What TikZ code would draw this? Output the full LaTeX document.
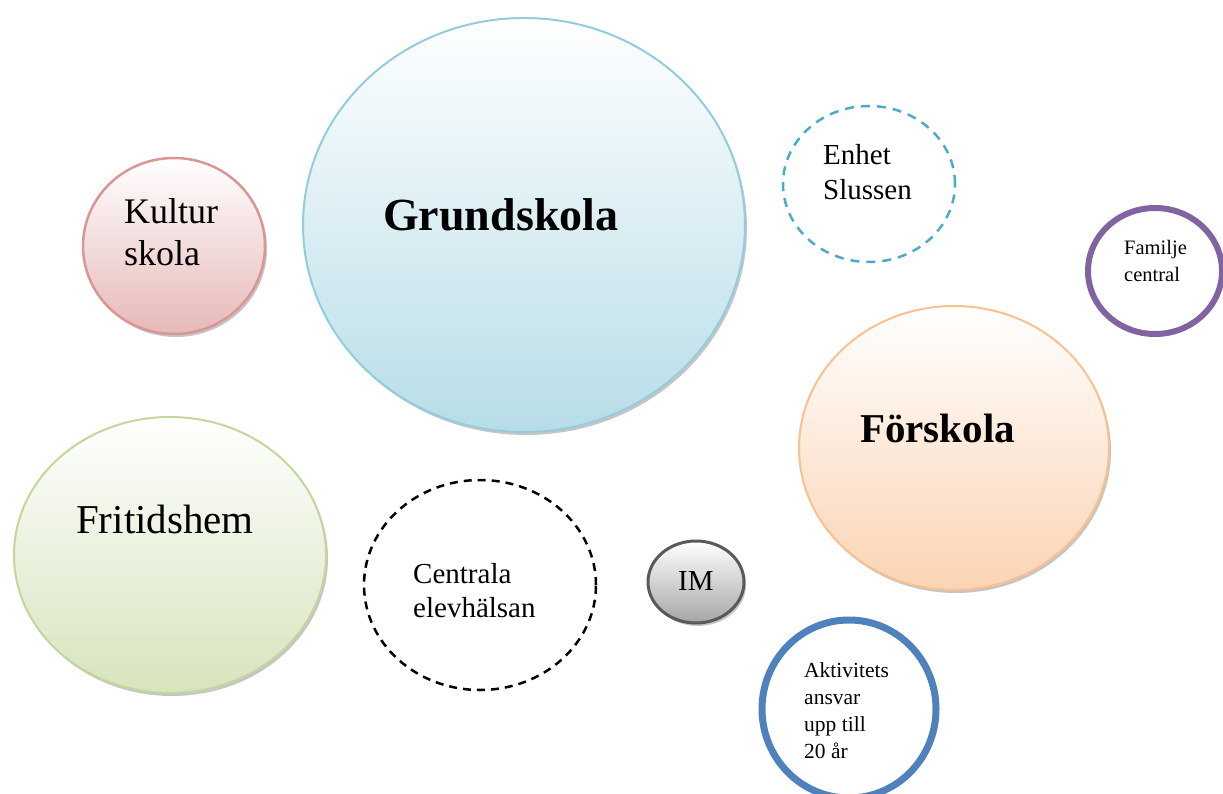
\documentclass[tikz,border=0pt]{standalone}
\usepackage{fontspec}
\setmainfont{Liberation Serif}
\usetikzlibrary{shapes.geometric}
\definecolor{gsB}{HTML}{B7DDE8}\definecolor{gsL}{HTML}{93CDDD}
\definecolor{kuB}{HTML}{E6B9B8}\definecolor{kuL}{HTML}{D99694}
\definecolor{foB}{HTML}{FBD4B4}\definecolor{foL}{HTML}{FAC090}
\definecolor{frB}{HTML}{D7E4BD}\definecolor{frL}{HTML}{C3D69B}
\definecolor{imB}{HTML}{A6A6A6}\definecolor{imL}{HTML}{595959}
\definecolor{enL}{HTML}{4BACC6}
\definecolor{faL}{HTML}{8064A2}
\definecolor{akL}{HTML}{4F81BD}
\tikzset{
  bubble/.style={ellipse, inner sep=0pt, outer sep=0pt},
  gradbubble/.style 2 args={bubble, draw=#1, line width=2pt, top color=white, bottom color=#2, shading angle=0},
  shadowbubble/.style={bubble, fill=black!45, opacity=0.5},
  lbl/.style={align=left, anchor=base west, inner sep=0pt, text=black},
}
\newcommand{\fsz}[2]{\fontsize{#1}{#2}\selectfont}
\begin{document}
\begin{tikzpicture}[x=1pt,y=-1pt]
\useasboundingbox (0,0) rectangle (1223,794);
\clip (0,0) rectangle (1223,794);
% shadows
\node[shadowbubble, minimum width=442, minimum height=414] (gsS) at (526,228) {};
\node[shadowbubble, minimum width=182, minimum height=176] (kuS) at (176,249) {};
\node[shadowbubble, minimum width=310, minimum height=284] (foS) at (956,451) {};
\node[shadowbubble, minimum width=312, minimum height=276] (frS) at (172,558) {};
\node[shadowbubble, minimum width=96, minimum height=82] (imS) at (698,585) {};
% main shapes
\node[gradbubble={gsL}{gsB}, minimum width=442, minimum height=414] (gs) at (524,225) {};
\node[gradbubble={kuL}{kuB}, line width=2.5pt, minimum width=182, minimum height=176] (ku) at (174,246) {};
\node[gradbubble={foL}{foB}, minimum width=310, minimum height=284] (fo) at (954,448) {};
\node[gradbubble={frL}{frB}, minimum width=312, minimum height=276] (fr) at (170,555) {};
\node[gradbubble={imL}{imB}, line width=3pt, minimum width=96, minimum height=82] (im) at (696,582) {};
\node[bubble, draw=enL, line width=2.5pt, dash pattern=on 9pt off 7pt, minimum width=172, minimum height=156] (en) at (869,184) {};
\node[bubble, draw=black, line width=2.5pt, dash pattern=on 8pt off 6pt, minimum width=232, minimum height=210] (ce) at (480,585) {};
\node[bubble, draw=faL, line width=6pt, minimum width=134, minimum height=126] (fa) at (1155,271) {};
\node[bubble, draw=akL, line width=7pt, minimum width=174, minimum height=178] (ak) at (849,709) {};
% labels (multi-line: anchor = baseline of last line)
\node[lbl, font=\fsz{46}{50}\bfseries] (gsT) at (383,231) {Grundskola};
\node[lbl, font=\fsz{41}{46}\bfseries] (foT) at (860,442) {Förskola};
\node[lbl, font=\fsz{41}{46}] (frT) at (76,533) {Fritidshem};
\node[lbl, font=\fsz{36}{43}] (kuT) at (124,266) {Kultur\\skola};
\node[lbl, font=\fsz{29}{35}] (enT) at (823,200) {Enhet\\Slussen};
\node[lbl, font=\fsz{20.5}{27}] (faT) at (1124,282) {Familje\\central};
\node[lbl, font=\fsz{29}{34}] (ceT) at (413,617) {Centrala\\elevhälsan};
\node[lbl, font=\fsz{29}{32}] (imT) at (678,590) {IM};
\node[lbl, font=\fsz{21.5}{26.7}] (akT) at (804,758) {Aktivitets\\ansvar\\upp till\\20 år};
\end{tikzpicture}
\end{document}
